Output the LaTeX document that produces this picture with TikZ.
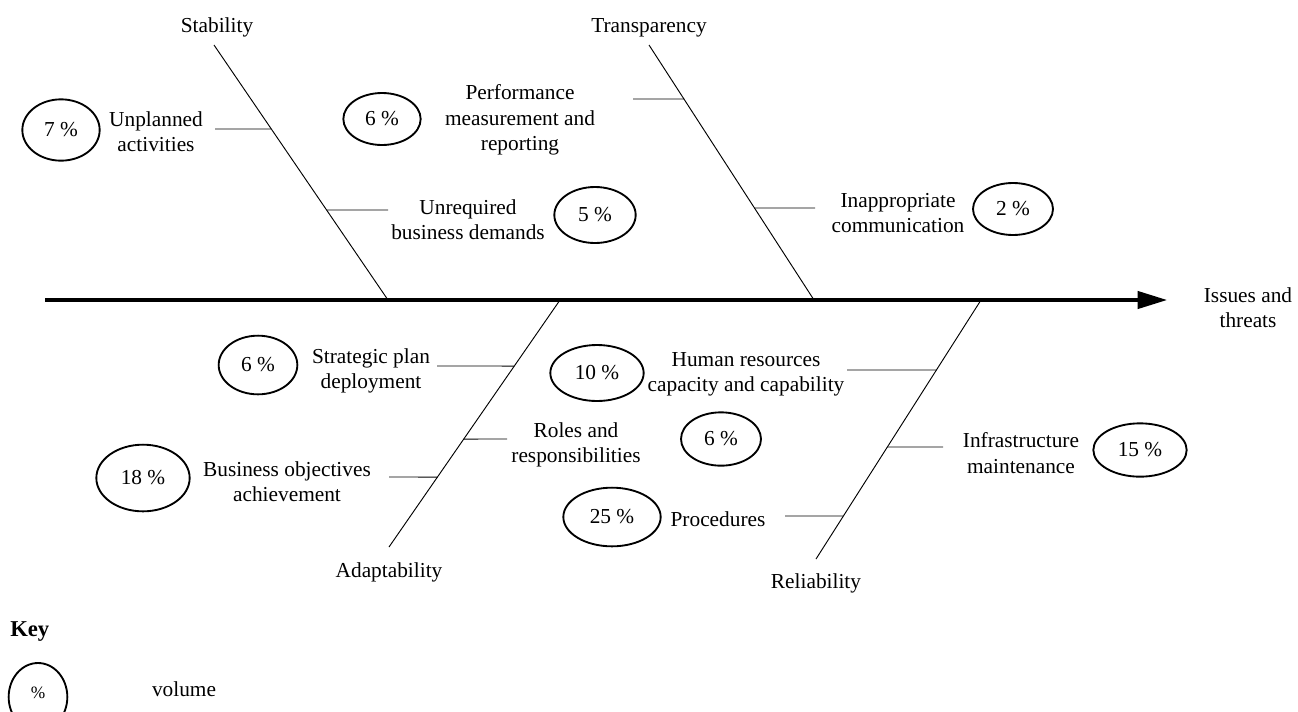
\documentclass[tikz,border=0pt]{standalone}
\usepackage{fontspec}
\setmainfont{Liberation Serif}
\usetikzlibrary{shapes.geometric,arrows.meta,calc}
\tikzset{
  lbl/.style={font=\fontsize{16}{19}\selectfont, align=center, inner sep=0pt},
  pct/.style={draw, ellipse, line width=1.4pt, inner sep=0pt, font=\fontsize{16}{19}\selectfont},
  spine/.style={line width=0.7pt},
  rib/.style={line width=0.7pt},
  axis/.style={line width=2.3pt, -{Triangle[length=22pt,width=13pt]}}
}
\newcommand{\onspine}[3]{\coordinate (#3) at (intersection cs:first line={(#1)--(#2)}, second line={(#3a)--($(#3a)+(10,0)$)});}
\begin{document}
\begin{tikzpicture}[x=0.75pt,y=-0.75pt]
\useasboundingbox (0,0) rectangle (1298,711);
\clip (0,0) rectangle (1298,711);
% axis
\coordinate (ax0) at (45,300);
\coordinate (ax1) at (1167,300);
\draw[axis] (ax0) -- (ax1);
\node[lbl] (goal) at (1248,308) {Issues and\\threats};
% spines
\coordinate (s1t) at (214,45);  \coordinate (s1b) at (388,300);
\coordinate (s2t) at (649,45);  \coordinate (s2b) at (814,300);
\coordinate (s3t) at (560,300); \coordinate (s3b) at (389,547);
\coordinate (s4t) at (981,300); \coordinate (s4b) at (816,559);
\draw[spine] (s1t) -- (s1b);
\draw[spine] (s2t) -- (s2b);
\draw[spine] (s3t) -- (s3b);
\draw[spine] (s4t) -- (s4b);
\node[lbl] (stab) at (217,27) {Stability};
\node[lbl] (trans) at (649,28) {Transparency};
\node[lbl] (adapt) at (389,572) {Adaptability};
\node[lbl] (rel) at (816,583) {Reliability};
% rib free ends
\coordinate (r1a) at (215,129);
\coordinate (r2a) at (633,99);
\coordinate (r3a) at (388,210);
\coordinate (r4a) at (815,208);
\coordinate (r5a) at (437,366);
\coordinate (r6a) at (847,370);
\coordinate (r7a) at (507,439);
\coordinate (r8a) at (389,477);
\coordinate (r9a) at (943,447);
\coordinate (r10a) at (785,516);
\onspine{s1t}{s1b}{r1}
\onspine{s2t}{s2b}{r2}
\onspine{s1t}{s1b}{r3}
\onspine{s2t}{s2b}{r4}
\onspine{s3t}{s3b}{r5}
\onspine{s4t}{s4b}{r6}
\onspine{s3t}{s3b}{r7}
\onspine{s3t}{s3b}{r8}
\onspine{s4t}{s4b}{r9}
\onspine{s4t}{s4b}{r10}
\foreach \i in {1,...,10} {\draw[rib] (r\i a) -- (r\i);}
% labels
\node[lbl] (t1) at (156,132) {Unplanned\\activities};
\node[lbl] (t2) at (520,120) {Performance\\measurement and\\reporting};
\node[lbl] (t3) at (468,220) {Unrequired\\business demands};
\node[lbl] (t4) at (898,213) {Inappropriate\\communication};
\node[lbl] (t5) at (371,371) {Strategic plan\\deployment};
\node[lbl] (t6) at (746,374) {Human resources\\capacity and capability};
\node[lbl] (t7) at (576,445) {Roles and\\responsibilities};
\node[lbl] (t8) at (287,482) {Business objectives\\achievement};
\node[lbl] (t9) at (1021,453) {Infrastructure\\maintenance};
\node[lbl] (t10) at (718,519) {Procedures};
% percentage ellipses
\node[pct, minimum width=58pt, minimum height=46pt] (e1) at (61,130) {7~\%};
\node[pct, minimum width=58pt, minimum height=39pt] (e2) at (382,119) {6~\%};
\node[pct, minimum width=61pt, minimum height=42pt] (e3) at (595,215) {5~\%};
\node[pct, minimum width=60pt, minimum height=39pt] (e4) at (1013,209) {2~\%};
\node[pct, minimum width=59pt, minimum height=44pt] (e5) at (258,365) {6~\%};
\node[pct, minimum width=70pt, minimum height=42pt] (e6) at (597,373) {10~\%};
\node[pct, minimum width=70pt, minimum height=50pt] (e7) at (143,478) {18~\%};
\node[pct, minimum width=60pt, minimum height=40pt] (e8) at (721,439) {6~\%};
\node[pct, minimum width=70pt, minimum height=40pt] (e9) at (1140,450) {15~\%};
\node[pct, minimum width=73pt, minimum height=44pt] (e10) at (612,517) {25~\%};
% key
\node[lbl, anchor=west, font=\fontsize{17}{20}\selectfont\bfseries] (key) at (10,632) {Key};
\node[pct, minimum width=44pt, minimum height=51pt, font=\fontsize{13}{15}\selectfont] (ke) at (38,697) {\raisebox{6pt}{\%}};
\node[lbl] (kv) at (184,689) {volume};
\end{tikzpicture}
\end{document}
